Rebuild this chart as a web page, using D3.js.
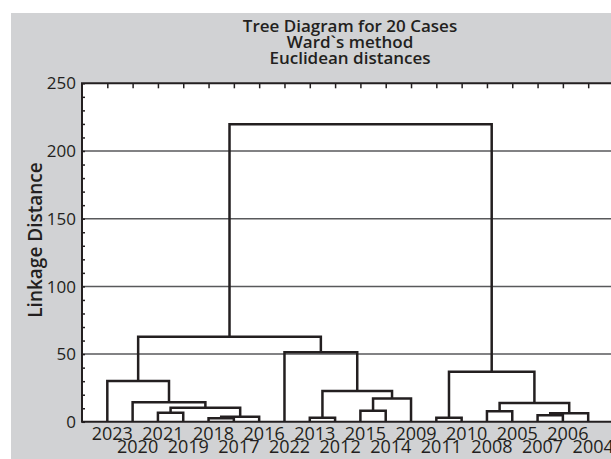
<!DOCTYPE html>
<html>
<head>
<meta charset="utf-8">
<script src="https://cdn.jsdelivr.net/npm/d3@7"></script>
<style>
    body { margin: 0; background: #fff; }
    text { font-family: "Open Sans", "Noto Sans", sans-serif; fill: #231f20; }
</style>
</head>
<body>
<div class="treechart"></div>
<script>
var titleLines = ["Tree Diagram for 20 Cases", "Ward`s method", "Euclidean distances"];

// leaf order as drawn, left to right
var leaves = ["2023", "2020", "2021", "2019", "2018", "2017", "2016", "2022", "2013", "2012",
    "2015", "2014", "2009", "2011", "2010", "2008", "2005", "2007", "2006", "2004"];

// merges: [left, right, linkage distance]
// numbers < 20 are leaf indexes, 20 + k is the cluster made by merge k
var merges = [
    [4, 5, 2.6],
    [20, 6, 3.8],
    [8, 9, 3.0],
    [13, 14, 3.0],
    [17, 18, 4.8],
    [24, 19, 6.3],
    [2, 3, 6.7],
    [15, 16, 7.7],
    [10, 11, 8.2],
    [26, 21, 10.4],
    [27, 25, 13.9],
    [1, 29, 14.4],
    [28, 12, 17.3],
    [22, 32, 22.7],
    [0, 31, 30.1],
    [23, 30, 37.0],
    [7, 33, 51.3],
    [34, 36, 62.9],
    [37, 35, 219.7]
];

var yTicks = [0, 50, 100, 150, 200, 250];

var width = 611;
var height = 459;

var svg = d3.select(".treechart")
    .append("svg")
    .attr("width", width)
    .attr("height", height);

// grey panel
svg.append("rect")
    .attr("x", 11)
    .attr("y", 13)
    .attr("width", width - 11)
    .attr("height", height - 13)
    .attr("fill", "#d1d2d4");

var x = d3.scaleLinear().domain([0, leaves.length + 1]).range([82, 613.5]);
var y = d3.scaleLinear().domain([0, 250]).range([421.8, 83.3]);

// plot area
svg.append("rect")
    .attr("x", x(0))
    .attr("y", y(250))
    .attr("width", x(leaves.length + 1) - x(0))
    .attr("height", y(0) - y(250))
    .attr("fill", "#fff");

// grid lines
svg.append("g")
    .selectAll("line")
    .data(yTicks.filter(function(d) { return d > 0 && d < 250; }))
    .join("line")
    .attr("x1", x(0))
    .attr("x2", x(leaves.length + 1))
    .attr("y1", function(d) { return y(d); })
    .attr("y2", function(d) { return y(d); })
    .attr("stroke", "#58595b")
    .attr("stroke-width", 1.5);

// y axis: labels on majors, small inward ticks every 10
var yAxis = svg.append("g")
    .attr("transform", "translate(" + x(0) + ",0)")
    .call(d3.axisRight(y).tickValues(d3.range(0, 251, 10)).tickSize(3).tickFormat(""));
yAxis.select(".domain").remove();
yAxis.selectAll("line").attr("stroke", "#231f20").attr("stroke-width", 1.5);

svg.append("g")
    .selectAll("text")
    .data(yTicks)
    .join("text")
    .attr("x", x(0) - 6)
    .attr("y", function(d) { return y(d); })
    .attr("dy", "0.36em")
    .attr("text-anchor", "end")
    .attr("font-size", 17)
    .text(function(d) { return d; });

// top axis ticks at every case
var topAxis = svg.append("g")
    .attr("transform", "translate(0," + y(250) + ")")
    .call(d3.axisBottom(x).tickValues(d3.range(1, leaves.length + 1)).tickSize(5).tickFormat(""));
topAxis.select(".domain").remove();
topAxis.selectAll("line").attr("stroke", "#231f20").attr("stroke-width", 1.5);

// frame
svg.append("path")
    .attr("d", "M" + x(leaves.length + 1) + "," + y(250) + "H" + x(0) + "V" + y(0) + "H" + x(leaves.length + 1))
    .attr("fill", "none")
    .attr("stroke", "#231f20")
    .attr("stroke-width", 2);

// node positions: leaves at 1..n, clusters in the middle of their children
var nodeX = leaves.map(function(d, i) { return i + 1; });
var nodeH = leaves.map(function() { return 0; });
merges.forEach(function(m) {
    nodeX.push((nodeX[m[0]] + nodeX[m[1]]) / 2);
    nodeH.push(m[2]);
});

svg.append("g")
    .selectAll("path")
    .data(merges)
    .join("path")
    .attr("d", function(m) {
        return "M" + x(nodeX[m[0]]) + "," + y(nodeH[m[0]]) +
            "V" + y(m[2]) +
            "H" + x(nodeX[m[1]]) +
            "V" + y(nodeH[m[1]]);
    })
    .attr("fill", "none")
    .attr("stroke", "#231f20")
    .attr("stroke-width", 2.5)
    .attr("stroke-linejoin", "miter");

// case labels, staggered in two rows
svg.append("g")
    .selectAll("text")
    .data(leaves)
    .join("text")
    .attr("x", function(d, i) { return x(i + 1) + 5; })
    .attr("y", function(d, i) { return i % 2 == 0 ? 440 : 453; })
    .attr("text-anchor", "middle")
    .attr("font-size", 18)
    .text(function(d) { return d; });

// titles
svg.append("g")
    .selectAll("text")
    .data(titleLines)
    .join("text")
    .attr("x", 350)
    .attr("y", function(d, i) { return 32 + i * 16; })
    .attr("text-anchor", "middle")
    .attr("font-size", 17)
    .attr("font-weight", 600)
    .text(function(d) { return d; });

svg.append("text")
    .attr("transform", "translate(42," + 240 + ") rotate(-90)")
    .attr("text-anchor", "middle")
    .attr("font-size", 19)
    .attr("font-weight", 600)
    .text("Linkage Distance");
</script>
</body>
</html>
